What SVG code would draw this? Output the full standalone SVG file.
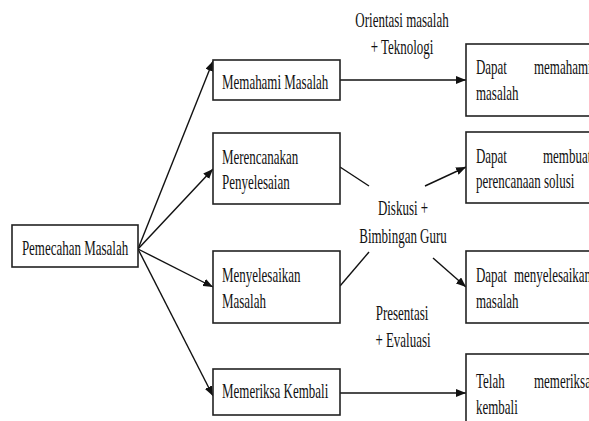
<svg xmlns="http://www.w3.org/2000/svg" width="589" height="421" viewBox="0 0 589 421">
<style>
.box{fill:#fff;stroke:#222;stroke-width:1.6}
.t{font-family:"Liberation Serif","Times New Roman",serif;font-size:22px;fill:#111}
.m{text-anchor:middle}
.ln{stroke:#111;stroke-width:1.4;fill:none}
</style>
<defs>
<marker id="ah" viewBox="0 0 10 8" refX="10" refY="4" markerWidth="10" markerHeight="8" markerUnits="userSpaceOnUse" orient="auto">
<path d="M0,0 L10,4 L0,8 z" fill="#111"/>
</marker>
</defs>
<rect width="589" height="421" fill="#fff"/>
<g id="connectors">
<line class="ln" x1="138" y1="249" x2="213" y2="61" marker-end="url(#ah)"/>
<line class="ln" x1="138" y1="249" x2="213" y2="169" marker-end="url(#ah)"/>
<line class="ln" x1="138" y1="249" x2="213" y2="287" marker-end="url(#ah)"/>
<line class="ln" x1="138" y1="249" x2="213" y2="396" marker-end="url(#ah)"/>
<line class="ln" x1="340" y1="80" x2="466" y2="80" marker-end="url(#ah)"/>
<line class="ln" x1="340" y1="393" x2="466" y2="393" marker-end="url(#ah)"/>
<line class="ln" x1="340" y1="167" x2="369" y2="186"/>
<line class="ln" x1="425" y1="186" x2="466" y2="167" marker-end="url(#ah)"/>
<line class="ln" x1="340" y1="286" x2="369" y2="252"/>
<line class="ln" x1="433" y1="258" x2="466" y2="287" marker-end="url(#ah)"/>
</g>
<g id="labels">
<text class="t m" transform="translate(402,27) scale(0.59,1)">Orientasi masalah</text>
<text class="t m" transform="translate(402,54) scale(0.59,1)">+ Teknologi</text>
<text class="t m" transform="translate(403,215) scale(0.59,1)">Diskusi +</text>
<text class="t m" transform="translate(403,243) scale(0.59,1)">Bimbingan Guru</text>
<text class="t m" transform="translate(402,320) scale(0.59,1)">Presentasi</text>
<text class="t m" transform="translate(403,347) scale(0.59,1)">+ Evaluasi</text>
</g>
<g id="pemecahan">
<rect class="box" x="12" y="225" width="126" height="42"/>
<text class="t m" transform="translate(75,255) scale(0.59,1)">Pemecahan Masalah</text>
</g>
<g id="memahami">
<rect class="box" x="213" y="60" width="127" height="40"/>
<text class="t" transform="translate(222,89) scale(0.59,1)">Memahami Masalah</text>
</g>
<g id="merencanakan">
<rect class="box" x="213" y="133" width="127" height="71"/>
<text class="t" transform="translate(222,164) scale(0.59,1)">Merencanakan</text>
<text class="t" transform="translate(222,189) scale(0.59,1)">Penyelesaian</text>
</g>
<g id="menyelesaikan">
<rect class="box" x="213" y="251" width="127" height="72"/>
<text class="t" transform="translate(222,282) scale(0.59,1)">Menyelesaikan</text>
<text class="t" transform="translate(222,308) scale(0.59,1)">Masalah</text>
</g>
<g id="memeriksa">
<rect class="box" x="213" y="369" width="127" height="46"/>
<text class="t" transform="translate(222,398) scale(0.59,1)">Memeriksa Kembali</text>
</g>
<g id="hasil1">
<rect class="box" x="466" y="44" width="160" height="72"/>
<text class="t" transform="translate(476,74) scale(0.59,1)">Dapat</text>
<text class="t" transform="translate(534,74) scale(0.59,1)">memahami</text>
<text class="t" transform="translate(476,100) scale(0.59,1)">masalah</text>
</g>
<g id="hasil2">
<rect class="box" x="466" y="132" width="160" height="71"/>
<text class="t" transform="translate(476,163) scale(0.59,1)">Dapat</text>
<text class="t" transform="translate(543,163) scale(0.59,1)">membuat</text>
<text class="t" transform="translate(476,188) scale(0.59,1)">perencanaan solusi</text>
</g>
<g id="hasil3">
<rect class="box" x="466" y="251" width="160" height="72"/>
<text class="t" transform="translate(476,282) scale(0.59,1)">Dapat</text>
<text class="t" transform="translate(514,282) scale(0.59,1)">menyelesaikan</text>
<text class="t" transform="translate(476,308) scale(0.59,1)">masalah</text>
</g>
<g id="hasil4">
<rect class="box" x="466" y="354" width="160" height="80"/>
<text class="t" transform="translate(476,388) scale(0.59,1)">Telah</text>
<text class="t" transform="translate(534,388) scale(0.59,1)">memeriksa</text>
<text class="t" transform="translate(476,414) scale(0.59,1)">kembali</text>
</g>
</svg>
